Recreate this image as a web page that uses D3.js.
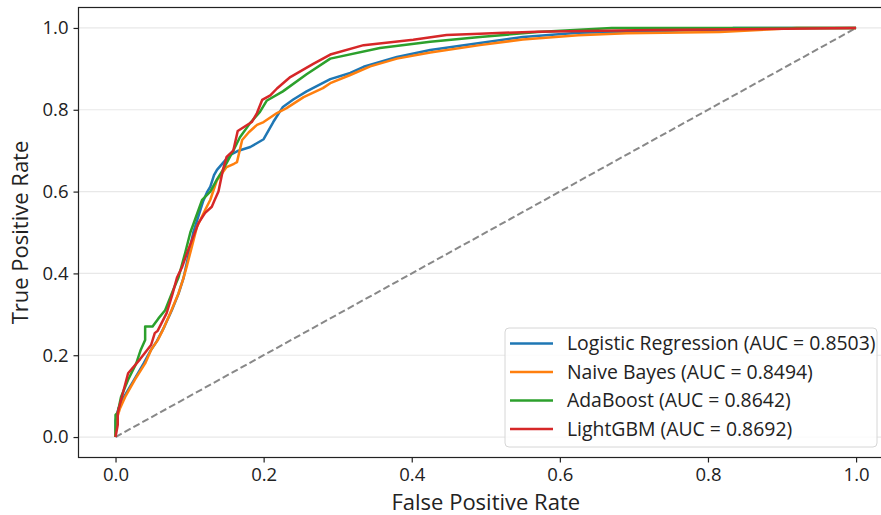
<!DOCTYPE html>
<html>
<head>
<meta charset="utf-8">
<script src="https://cdn.jsdelivr.net/npm/d3@7"></script>
<style>
  html, body { margin: 0; padding: 0; background: #fff; }
  svg { display: block; font-family: "Open Sans", "Noto Sans", sans-serif; }
</style>
</head>
<body>
<div id="chart"></div>
<script>
// ROC points
const lrFpr = [0, 0, 0.004, 0.012, 0.025, 0.038, 0.047, 0.056, 0.066, 0.076, 0.085, 0.092, 0.098, 0.105, 0.112, 0.118, 0.124, 0.128, 0.133, 0.137, 0.146, 0.155, 0.166, 0.182, 0.200, 0.213, 0.226, 0.240, 0.258, 0.290, 0.317, 0.335, 0.380, 0.425, 0.492, 0.550, 0.625, 0.750, 0.834, 0.834, 1.0];
const lrTpr = [0, 0.04, 0.07, 0.10, 0.14, 0.18, 0.21, 0.235, 0.27, 0.31, 0.35, 0.39, 0.44, 0.50, 0.54, 0.575, 0.60, 0.612, 0.64, 0.653, 0.672, 0.69, 0.70, 0.709, 0.728, 0.77, 0.807, 0.825, 0.845, 0.875, 0.89, 0.905, 0.929, 0.946, 0.963, 0.978, 0.988, 0.993, 0.997, 1.0, 1.0];

const nbFpr = [0, 0.001, 0.006, 0.013, 0.026, 0.040, 0.048, 0.057, 0.064, 0.074, 0.085, 0.091, 0.096, 0.103, 0.110, 0.121, 0.128, 0.137, 0.150, 0.160, 0.164, 0.171, 0.180, 0.191, 0.200, 0.218, 0.231, 0.254, 0.280, 0.290, 0.317, 0.344, 0.380, 0.425, 0.492, 0.550, 0.625, 0.690, 0.816, 0.920, 1.0];
const nbTpr = [0, 0.04, 0.07, 0.098, 0.14, 0.18, 0.213, 0.237, 0.262, 0.303, 0.351, 0.384, 0.416, 0.465, 0.514, 0.555, 0.58, 0.628, 0.66, 0.668, 0.672, 0.726, 0.745, 0.763, 0.77, 0.792, 0.804, 0.831, 0.853, 0.865, 0.885, 0.906, 0.925, 0.94, 0.958, 0.972, 0.982, 0.987, 0.99, 1.0, 1.0];

const adaFpr = [0, 0, 0.003, 0.0074, 0.017, 0.028, 0.034, 0.040, 0.040, 0.050, 0.058, 0.067, 0.078, 0.085, 0.094, 0.101, 0.107, 0.117, 0.128, 0.137, 0.145, 0.159, 0.168, 0.182, 0.195, 0.204, 0.226, 0.258, 0.290, 0.357, 0.425, 0.492, 0.570, 0.670, 1.0];
const adaTpr = [0, 0.054, 0.06, 0.098, 0.14, 0.18, 0.213, 0.237, 0.27, 0.27, 0.29, 0.31, 0.36, 0.39, 0.45, 0.50, 0.53, 0.58, 0.60, 0.63, 0.653, 0.70, 0.733, 0.768, 0.795, 0.822, 0.845, 0.887, 0.925, 0.951, 0.966, 0.978, 0.99, 1.0, 1.0];

const lgbFpr = [0, 0.003, 0.003, 0.017, 0.033, 0.048, 0.053, 0.057, 0.069, 0.077, 0.083, 0.090, 0.098, 0.105, 0.112, 0.121, 0.130, 0.134, 0.139, 0.145, 0.150, 0.159, 0.165, 0.184, 0.191, 0.198, 0.209, 0.218, 0.236, 0.267, 0.290, 0.335, 0.402, 0.447, 0.492, 0.569, 0.726, 1.0];
const lgbTpr = [0, 0.03, 0.06, 0.156, 0.19, 0.225, 0.254, 0.26, 0.303, 0.35, 0.39, 0.416, 0.457, 0.49, 0.523, 0.548, 0.563, 0.58, 0.60, 0.653, 0.685, 0.70, 0.748, 0.77, 0.792, 0.824, 0.835, 0.852, 0.88, 0.912, 0.935, 0.958, 0.971, 0.983, 0.986, 0.991, 0.995, 1.0];

const modelNames = ['Logistic Regression', 'Naive Bayes', 'AdaBoost', 'LightGBM'];
const aucValues = ['0.8503', '0.8494', '0.8642', '0.8692'];
const colors = ['#1f77b4', '#ff7f0e', '#2ca02c', '#d62728'];
const tickValues = [0, 0.2, 0.4, 0.6, 0.8, 1.0];

const curves = [
    { fpr: lrFpr, tpr: lrTpr },
    { fpr: nbFpr, tpr: nbTpr },
    { fpr: adaFpr, tpr: adaTpr },
    { fpr: lgbFpr, tpr: lgbTpr }
];

const width = 881, height = 515;
const plot = { left: 78.5, top: 7.5, width: 814.6, height: 450 };

const svg = d3.select('#chart').append('svg')
    .attr('width', width)
    .attr('height', height);

const x = d3.scaleLinear().domain([-0.05, 1.05]).range([plot.left, plot.left + plot.width]);
const y = d3.scaleLinear().domain([-0.05, 1.05]).range([plot.top + plot.height, plot.top]);

// horizontal grid
svg.append('g')
    .selectAll('line')
    .data(tickValues)
    .enter()
    .append('line')
    .attr('x1', plot.left)
    .attr('x2', plot.left + plot.width)
    .attr('y1', d => y(d))
    .attr('y2', d => y(d))
    .attr('stroke', '#e8e8e8')
    .attr('stroke-width', 1.2);

// diagonal reference
svg.append('line')
    .attr('x1', x(0)).attr('y1', y(0))
    .attr('x2', x(1)).attr('y2', y(1))
    .attr('stroke', '#888')
    .attr('stroke-width', 2)
    .attr('stroke-dasharray', '7,3.2');

const line = d3.line()
    .x(d => x(d[0]))
    .y(d => y(d[1]));

curves.forEach((c, i) => {
    const pts = c.fpr.map((f, k) => [f, c.tpr[k]]);
    svg.append('path')
        .datum(pts)
        .attr('fill', 'none')
        .attr('stroke', colors[i])
        .attr('stroke-width', 2.5)
        .attr('stroke-linejoin', 'round')
        .attr('d', line);
});

// axes
const xAxis = svg.append('g')
    .attr('transform', 'translate(0,' + (plot.top + plot.height) + ')')
    .call(d3.axisBottom(x).tickValues(tickValues).tickFormat(d3.format('.1f')).tickSizeOuter(0).tickSize(5).tickPadding(5));
const yAxis = svg.append('g')
    .attr('transform', 'translate(' + plot.left + ',0)')
    .call(d3.axisLeft(y).tickValues(tickValues).tickFormat(d3.format('.1f')).tickSizeOuter(0).tickSize(5).tickPadding(5));

[xAxis, yAxis].forEach(a => {
    a.select('.domain').remove();
    a.selectAll('line').attr('stroke', '#222').attr('stroke-width', 1.2);
    a.selectAll('text')
        .style('font-family', '"Open Sans", "Noto Sans", sans-serif')
        .style('font-size', '18.5px')
        .attr('fill', '#222');
});

// spines (left, top, bottom; right falls outside the picture)
svg.append('rect')
    .attr('x', plot.left)
    .attr('y', plot.top)
    .attr('width', plot.width)
    .attr('height', plot.height)
    .attr('fill', 'none')
    .attr('stroke', '#222')
    .attr('stroke-width', 1.2);

svg.append('text')
    .attr('x', x(0.5))
    .attr('y', 510)
    .attr('text-anchor', 'middle')
    .style('font-size', '22px')
    .attr('fill', '#222')
    .text('False Positive Rate');

svg.append('text')
    .attr('transform', 'rotate(-90)')
    .attr('x', -y(0.5))
    .attr('y', 28)
    .attr('text-anchor', 'middle')
    .style('font-size', '22px')
    .attr('fill', '#222')
    .text('True Positive Rate');

// legend
const legend = svg.append('g').attr('transform', 'translate(505,328)');
legend.append('rect')
    .attr('width', 372)
    .attr('height', 119)
    .attr('rx', 4)
    .attr('fill', 'rgba(255,255,255,0.8)')
    .attr('stroke', '#d6d6d6')
    .attr('stroke-width', 1);

modelNames.forEach((name, i) => {
    const row = legend.append('g').attr('transform', 'translate(0,' + (15.5 + i * 28.5) + ')');
    row.append('line')
        .attr('x1', 5).attr('x2', 48)
        .attr('y1', 0).attr('y2', 0)
        .attr('stroke', colors[i])
        .attr('stroke-width', 2.5);
    row.append('text')
        .attr('x', 62)
        .attr('y', 0)
        .attr('dy', '0.35em')
        .style('font-size', '19.4px')
        .attr('fill', '#222')
        .text(name + ' (AUC = ' + aucValues[i] + ')');
});
</script>
</body>
</html>
